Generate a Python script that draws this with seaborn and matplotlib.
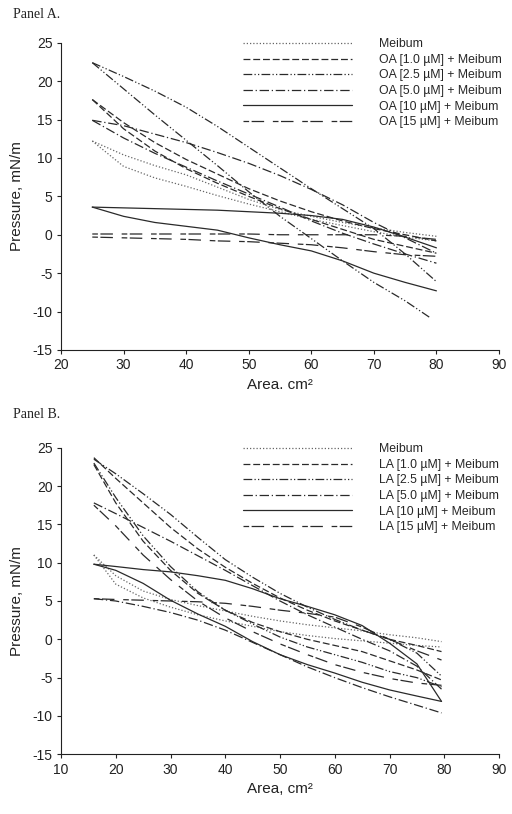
import numpy as np
import pandas as pd
import matplotlib
matplotlib.use("Agg")
import matplotlib.pyplot as plt
from matplotlib.lines import Line2D
import seaborn as sns

# ---------------- data ----------------
series_A = ["Meibum", "OA [1.0 µM] + Meibum", "OA [2.5 µM] + Meibum",
            "OA [5.0 µM] + Meibum", "OA [10 µM] + Meibum", "OA [15 µM] + Meibum"]
series_B = ["Meibum", "LA [1.0 µM] + Meibum", "LA [2.5 µM] + Meibum",
            "LA [5.0 µM] + Meibum", "LA [10 µM] + Meibum", "LA [15 µM] + Meibum"]

area_A = [25, 30, 35, 40, 45, 50, 55, 60, 65, 70, 75, 80]
area_A_end79 = [25, 30, 35, 40, 45, 50, 55, 60, 65, 70, 75, 79]

meib_A_up = [12.2, 10.4, 9.0, 7.8, 6.2, 4.6, 3.3, 2.4, 1.6, 0.9, 0.3, -0.2]
meib_A_lo = [12.2, 8.9, 7.4, 6.3, 5.1, 4.0, 3.0, 2.0, 1.2, 0.4, -0.3, -0.8]
oa10_up = [17.6, 14.6, 12.0, 9.8, 7.9, 6.0, 4.4, 3.0, 1.8, 0.8, 0.0, -0.8]
oa10_lo = [17.6, 13.8, 10.9, 8.6, 6.7, 5.0, 3.4, 2.0, 0.7, -0.6, -1.5, -2.4]
oa25_up = [22.4, 20.6, 18.7, 16.6, 14.1, 11.4, 8.7, 6.0, 3.4, 0.8, -2.5, -6.1]
oa25_lo = [22.4, 19.0, 15.6, 12.3, 9.0, 5.6, 2.4, -0.5, -3.4, -6.2, -8.6, -10.8]
oa50_up = [14.9, 14.2, 13.1, 12.0, 10.7, 9.3, 7.7, 5.9, 3.9, 1.6, -0.4, -2.4]
oa50_lo = [14.9, 12.6, 10.6, 8.8, 7.0, 5.3, 3.6, 1.8, 0.2, -1.2, -2.5, -3.7]
oa100_up = [3.6, 3.5, 3.4, 3.3, 3.2, 3.0, 2.8, 2.5, 2.0, 1.0, -0.3, -1.7]
oa100_lo = [3.6, 2.4, 1.6, 1.1, 0.6, -0.4, -1.3, -2.1, -3.4, -5.0, -6.2, -7.3]
oa150_up = [0.1, 0.1, 0.1, 0.1, 0.1, 0.1, 0.0, 0.0, 0.0, 0.0, -0.2, -0.6]
oa150_lo = [-0.3, -0.4, -0.5, -0.6, -0.8, -0.9, -1.1, -1.3, -1.7, -2.2, -2.6, -2.8]

area_B = [16, 20, 25, 30, 35, 40, 45, 50, 55, 60, 65, 70, 75, 79.5]

meib_B_up = [11.0, 8.3, 6.3, 5.2, 4.4, 3.7, 3.0, 2.4, 1.9, 1.5, 1.1, 0.6, 0.2, -0.3]
meib_B_lo = [11.0, 7.2, 5.4, 4.2, 3.2, 2.4, 1.7, 1.0, 0.5, 0.1, -0.2, -0.5, -0.8, -1.0]
la10_up = [23.7, 21.0, 17.8, 14.6, 11.8, 9.4, 7.3, 5.4, 3.8, 2.4, 1.2, 0.0, -0.8, -1.6]
la10_lo = [22.8, 17.8, 12.8, 9.0, 6.0, 3.8, 2.2, 1.0, 0.0, -0.8, -1.6, -2.8, -4.0, -5.3]
la25_up = [23.5, 21.6, 19.0, 16.3, 13.3, 10.4, 8.1, 6.0, 4.2, 2.6, 1.2, 0.0, -1.8, -4.8]
la25_lo = [23.0, 18.5, 13.5, 9.5, 6.2, 3.8, 2.0, 0.3, -1.0, -2.0, -3.0, -4.2, -5.0, -6.2]
la50_up = [17.8, 16.4, 14.6, 12.8, 10.9, 9.0, 7.0, 5.0, 3.2, 1.6, 0.0, -1.5, -3.5, -6.5]
la50_lo = [5.3, 5.0, 4.3, 3.5, 2.5, 1.2, -0.4, -2.0, -3.6, -5.0, -6.3, -7.5, -8.6, -9.6]
la100_up = [9.8, 9.5, 9.1, 8.8, 8.3, 7.7, 6.6, 5.3, 4.3, 3.2, 1.8, -0.5, -3.2, -8.1]
la100_lo = [9.8, 9.0, 7.3, 5.1, 3.3, 1.7, -0.3, -2.0, -3.3, -4.4, -5.6, -6.6, -7.4, -8.1]
la150_up = [5.3, 5.2, 5.1, 5.0, 4.9, 4.7, 4.3, 3.8, 3.4, 2.9, 1.6, 0.0, -1.5, -2.7]
la150_lo = [17.5, 14.8, 11.0, 7.8, 5.0, 2.8, 1.0, -0.6, -2.0, -3.3, -4.3, -5.1, -5.7, -6.0]

xticks_A = [20, 30, 40, 50, 60, 70, 80, 90]
xticks_B = [10, 20, 30, 40, 50, 60, 70, 80, 90]
yticks = [-15, -10, -5, 0, 5, 10, 15, 20, 25]

# ---------------- build tables ----------------
def build(series, branches):
    rows = []
    for name, blist in zip(series, branches):
        for bi, (xs, ys) in enumerate(blist):
            for i, (xv, yv) in enumerate(zip(xs, ys)):
                rows.append(dict(series=name, branch=f"{name}-{bi}", order=i,
                                 area=xv, pressure=yv))
    return pd.DataFrame(rows)

df_A = build(series_A, [
    [(area_A, meib_A_up), (area_A, meib_A_lo)],
    [(area_A, oa10_up), (area_A, oa10_lo)],
    [(area_A, oa25_up), (area_A_end79, oa25_lo)],
    [(area_A, oa50_up), (area_A, oa50_lo)],
    [(area_A, oa100_up), (area_A, oa100_lo)],
    [(area_A, oa150_up), (area_A, oa150_lo)],
])
df_B = build(series_B, [
    [(area_B, meib_B_up), (area_B, meib_B_lo)],
    [(area_B, la10_up), (area_B, la10_lo)],
    [(area_B, la25_up), (area_B, la25_lo)],
    [(area_B, la50_up), (area_B, la50_lo)],
    [(area_B, la100_up), (area_B, la100_lo)],
    [(area_B, la150_up), (area_B, la150_lo)],
])

dash_styles = [(1, 1.6), (5.5, 2.3), (7, 1.8, 1, 1.8, 1, 1.8), (7.5, 2.2, 1, 2.2), "", (4.5, 2, 10, 7)]
line_colors = ["#666666", "#2a2a2a", "#2a2a2a", "#2a2a2a", "#2a2a2a", "#2a2a2a"]

# ---------------- figure ----------------
sns.set_theme(style="ticks")
plt.rcParams["font.family"] = ["Liberation Sans", "DejaVu Sans"]
plt.rcParams["axes.unicode_minus"] = False

fig = plt.figure(figsize=(5.12, 8.14), dpi=100)
W, H = 512, 814
axA = fig.add_axes([61 / W, 1 - 350 / H, 438 / W, 307.3 / H])
axB = fig.add_axes([61 / W, 1 - 754.3 / H, 438 / W, 306.6 / H])

for ax, df, series, xticks, xlab in [
        (axA, df_A, series_A, xticks_A, "Area. cm²"),
        (axB, df_B, series_B, xticks_B, "Area, cm²")]:
    for name, dsh, col in zip(series, dash_styles, line_colors):
        sub = df[df.series == name]
        for b, g in sub.groupby("branch", sort=False):
            g = g.sort_values("order")
            kw = dict(dashes=dsh) if dsh != "" else dict(linestyle="-")
            sns.lineplot(data=g, x="area", y="pressure", sort=False,
                         estimator=None, ax=ax, color=col, lw=0.9, **kw)
    ax.set_xlim(xticks[0], xticks[-1])
    ax.set_ylim(-15, 25)
    ax.set_xticks(xticks)
    ax.set_yticks(yticks)
    ax.tick_params(axis="both", direction="out", length=3, width=0.8,
                   labelsize=10, pad=3, colors="#222222")
    for s in ["top", "right"]:
        ax.spines[s].set_visible(False)
    for s in ["left", "bottom"]:
        ax.spines[s].set_linewidth(0.8)
        ax.spines[s].set_color("#222222")
    ax.set_xlabel(xlab, fontsize=11, labelpad=4, color="#222222")
    ax.set_ylabel("Pressure, mN/m", fontsize=11, labelpad=6, color="#222222")

    handles = []
    for name, dsh, col in zip(series, dash_styles, line_colors):
        if dsh == "":
            h = Line2D([], [], color=col, lw=0.9, linestyle="-")
        else:
            h = Line2D([], [], color=col, lw=0.9, dashes=dsh)
        handles.append(h)
    ax.legend(handles, series, loc="upper left",
              bbox_to_anchor=((243 - 61) / 438, 1.014), frameon=False,
              fontsize=8.8, handlelength=8.9, handletextpad=2.2,
              labelspacing=0.29, borderpad=0, borderaxespad=0)

fig.text(13 / W, 1 - 14 / H, "Panel A.", family=["Liberation Serif"],
         fontsize=10, va="center", ha="left", color="#222222")
fig.text(13 / W, 1 - 415 / H, "Panel B.", family=["Liberation Serif"],
         fontsize=10, va="center", ha="left", color="#222222")

fig.savefig("out.png", dpi=100)
